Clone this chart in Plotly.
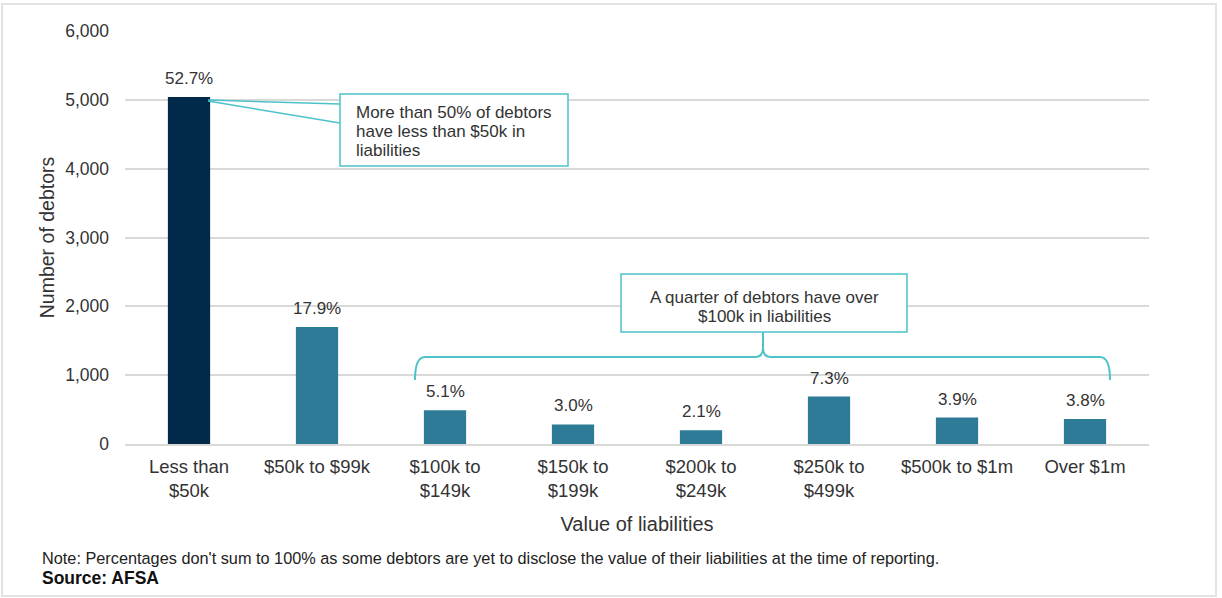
import plotly.graph_objects as go

categories = ["Less than<br>$50k", "$50k to $99k", "$100k to<br>$149k", "$150k to<br>$199k",
              "$200k to<br>$249k", "$250k to<br>$499k", "$500k to $1m", "Over $1m"]
debtors = [5040, 1700, 490, 285, 200, 690, 385, 365]
pct_labels = ["52.7%", "17.9%", "5.1%", "3.0%", "2.1%", "7.3%", "3.9%", "3.8%"]
y_ticks = [0, 1000, 2000, 3000, 4000, 5000, 6000]
callout1_lines = ["More than 50% of debtors", "have less than $50k in", "liabilities"]
callout2_lines = ["A quarter of debtors have over", "$100k in liabilities"]

NAVY = "#00294A"
TEAL = "#2D7B97"
CYAN = "#4CC2CA"
TXT = "#333333"
FONT = "Liberation Sans, Arial, sans-serif"

W, H = 1222, 598
L, R, T, B = 125, 1149, 31, 444


def px(x):
    return (x - L) / (R - L)


def py(y):
    return (B - y) / (B - T)


colors = [NAVY] + [TEAL] * (len(categories) - 1)

fig = go.Figure()
fig.add_trace(go.Bar(x=categories, y=debtors, marker=dict(color=colors, line=dict(width=0)),
                     hoverinfo="x+y"))

for c, v, lab in zip(categories, debtors, pct_labels):
    fig.add_annotation(x=c, y=v, xref="x", yref="y", text=lab, showarrow=False,
                       yanchor="bottom", yshift=7, font=dict(size=17, color=TXT, family=FONT))

# Callout 1: box, connector and text
fig.add_shape(type="rect", xref="paper", yref="paper", x0=px(340), x1=px(568), y0=py(166), y1=py(94),
              line=dict(color=CYAN, width=1.5), fillcolor="white")
fig.add_shape(type="path", xref="paper", yref="paper",
              path=f"M {px(208)},{py(100)} L {px(340)},{py(104)} M {px(208)},{py(101)} L {px(340)},{py(123)}",
              line=dict(color=CYAN, width=1.5))
for i, line in enumerate(callout1_lines):
    fig.add_annotation(xref="paper", yref="paper", x=px(354), y=py(112 + 19 * i), xanchor="left",
                       yanchor="middle", text=line, align="left", showarrow=False,
                       font=dict(size=17, color=TXT, family=FONT))

# Callout 2: box, bracket and text
fig.add_shape(type="rect", xref="paper", yref="paper", x0=px(621), x1=px(907), y0=py(332), y1=py(274),
              line=dict(color=CYAN, width=1.5), fillcolor="white")
br = (f"M {px(415)},{py(380)} Q {px(415)},{py(357)} {px(425)},{py(357)} "
      f"L {px(755)},{py(357)} Q {px(763)},{py(357)} {px(763)},{py(348)} L {px(763)},{py(332)} "
      f"M {px(763)},{py(348)} Q {px(763)},{py(357)} {px(771)},{py(357)} "
      f"L {px(1100)},{py(357)} Q {px(1110)},{py(357)} {px(1110)},{py(380)}")
fig.add_shape(type="path", xref="paper", yref="paper", path=br, line=dict(color=CYAN, width=2))
for i, line in enumerate(callout2_lines):
    fig.add_annotation(xref="paper", yref="paper", x=px(764), y=py(297 + 19 * i), xanchor="center",
                       yanchor="middle", text=line, align="center", showarrow=False,
                       font=dict(size=17, color=TXT, family=FONT))

# Outer border
fig.add_shape(type="rect", xref="paper", yref="paper", x0=px(2), x1=px(1216), y0=py(596), y1=py(4),
              line=dict(color="#E3E3E3", width=2), fillcolor="rgba(0,0,0,0)", layer="below")

# Note and source
fig.add_annotation(xref="paper", yref="paper", x=px(40), y=py(558), xanchor="left", yanchor="middle",
                   text="Note: Percentages don't sum to 100% as some debtors are yet to disclose the value of their liabilities at the time of reporting.",
                   showarrow=False, font=dict(size=16.3, color="#222222", family=FONT))
fig.add_annotation(xref="paper", yref="paper", x=px(40), y=py(578), xanchor="left", yanchor="middle",
                   text="<b>Source: AFSA</b>", showarrow=False,
                   font=dict(size=17.5, color="#111111", family=FONT))

fig.update_layout(
    width=W, height=H,
    margin=dict(l=L, r=W - R, t=T, b=H - B, autoexpand=False),
    paper_bgcolor="white", plot_bgcolor="white",
    bargap=0.67, showlegend=False,
    font=dict(family=FONT, color=TXT),
    xaxis=dict(title=dict(text="Value of liabilities", font=dict(size=20, color=TXT), standoff=17),
               tickfont=dict(size=18.5, color=TXT), ticks="", showgrid=False, ticklabelstandoff=5,
               showline=True, linecolor="#D9D9D9", linewidth=2),
    yaxis=dict(title=dict(text="Number of debtors", font=dict(size=19.5, color=TXT), standoff=5),
               range=[0, 6000], tickvals=y_ticks, tickformat=",", ticks="",
               tickfont=dict(size=17.5, color=TXT), showgrid=True, gridcolor="#D9D9D9", gridwidth=1.5,
               zeroline=False, ticklabelstandoff=15),
)

fig.write_html("out.html", config={"displayModeBar": False},
               post_script="document.body.style.margin='0px';")
